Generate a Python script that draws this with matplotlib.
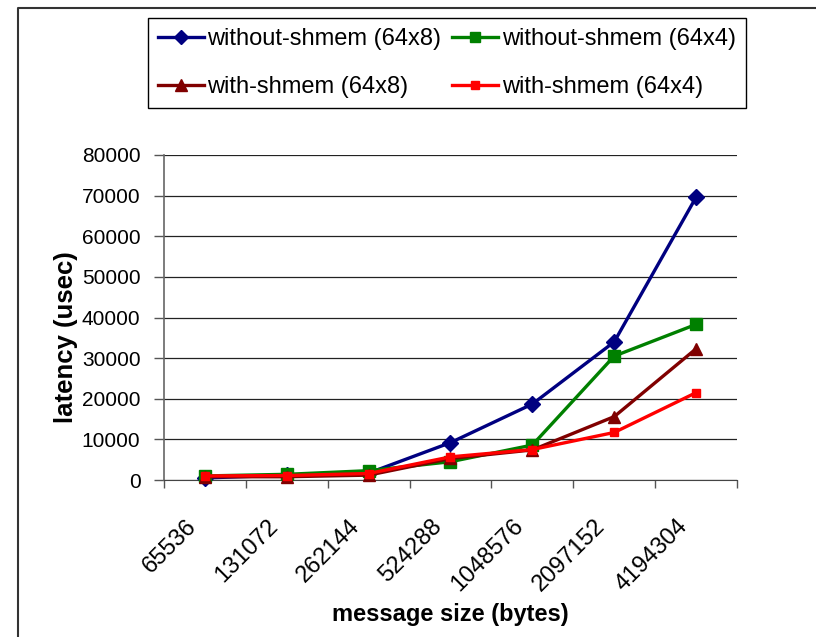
import numpy as np
import matplotlib
matplotlib.use('Agg')
import matplotlib.pyplot as plt
import matplotlib.transforms as mtransforms
from matplotlib.lines import Line2D
from matplotlib.ticker import FixedLocator, NullFormatter

plt.rcParams['font.family'] = ['Liberation Sans', 'DejaVu Sans']

# message sizes (bytes) and measured latencies (usec)
sizes = ['65536', '131072', '262144', '524288', '1048576', '2097152', '4194304']
without_shmem_64x8 = [500, 1200, 1700, 9200, 18700, 34000, 69600]
without_shmem_64x4 = [1000, 1400, 2300, 4500, 8600, 30500, 38300]
with_shmem_64x8 = [800, 800, 1200, 5300, 7400, 15600, 32300]
with_shmem_64x4 = [1000, 1100, 1600, 5700, 7500, 11700, 21500]

y_ticks = [0, 10000, 20000, 30000, 40000, 50000, 60000, 70000, 80000]

W, H = 816, 637
fig = plt.figure(figsize=(W / 100, H / 100), dpi=100)

# plot area in pixel units
left, right, top, bottom = 164, 737, 155, 480
ax = fig.add_axes([left / W, 1 - bottom / H, (right - left) / W, (bottom - top) / H])

x = np.arange(len(sizes)) + 0.5
series = [
    (without_shmem_64x8, '#000080', 'D', 8, 'without-shmem (64x8)'),
    (without_shmem_64x4, '#008000', 's', 8, 'without-shmem (64x4)'),
    (with_shmem_64x8, '#800000', '^', 9, 'with-shmem (64x8)'),
    (with_shmem_64x4, '#FF0000', 's', 6, 'with-shmem (64x4)'),
]
handles = []
for vals, col, mk, ms, lab in series:
    h, = ax.plot(x, vals, color=col, lw=2.4, marker=mk, markersize=ms,
                 markerfacecolor=col, markeredgecolor=col, label=lab,
                 clip_on=False, zorder=3)
    handles.append(h)

ax.set_xlim(0, len(sizes))
ax.set_ylim(0, 80000)
ax.set_yticks(y_ticks)
ax.set_yticklabels([str(v) for v in y_ticks])

# tick marks sit on the category boundaries
ax.xaxis.set_major_locator(FixedLocator(np.arange(len(sizes) + 1)))
ax.xaxis.set_major_formatter(NullFormatter())
ax.tick_params(axis='x', length=6, width=1, color='#555555', direction='out')
ax.tick_params(axis='y', length=7, width=1, color='#555555', direction='out',
               labelsize=15, pad=10)

# slanted category labels under each group
offset = mtransforms.ScaledTranslation(-0.2, -0.35, fig.dpi_scale_trans)
for xi, s in zip(x, sizes):
    ax.text(xi, 0, s, transform=ax.get_xaxis_transform() + offset,
            rotation=45, rotation_mode='anchor', ha='right', va='top',
            fontsize=17)

ax.grid(axis='y', color='#222222', lw=0.9)
ax.set_axisbelow(True)
for s in ['top', 'right']:
    ax.spines[s].set_visible(False)
ax.spines['left'].set_color('#666666')
ax.spines['left'].set_linewidth(1.2)
ax.spines['bottom'].set_color('#444444')

ax.set_ylabel('latency (usec)', fontsize=18.5, fontweight='bold', va='center')
ax.yaxis.set_label_coords((66 - left) / (right - left), (bottom - 337) / (bottom - top))
ax.set_xlabel('message size (bytes)', fontsize=17, fontweight='bold', va='center')
ax.xaxis.set_label_coords(0.5, (bottom - 614) / (bottom - top))

# legend box across the top, filled row by row
order = [0, 2, 1, 3]
fig.legend(handles=[handles[i] for i in order], ncol=2, loc='upper left',
           bbox_to_anchor=(148 / W, 1 - 18 / H), borderaxespad=0, fontsize=17,
           frameon=True, fancybox=False, edgecolor='black', framealpha=1,
           handlelength=1.95, handletextpad=0.15, columnspacing=0.45,
           borderpad=0.42, labelspacing=1.1, markerscale=0.95)

# chart border along the left and top edges
fig.add_artist(Line2D([18 / W, 18 / W, 1.0], [0.0, 1 - 8 / H, 1 - 8 / H],
                      transform=fig.transFigure, color='#333333', lw=1.5))

fig.savefig('out.png', dpi=100)
